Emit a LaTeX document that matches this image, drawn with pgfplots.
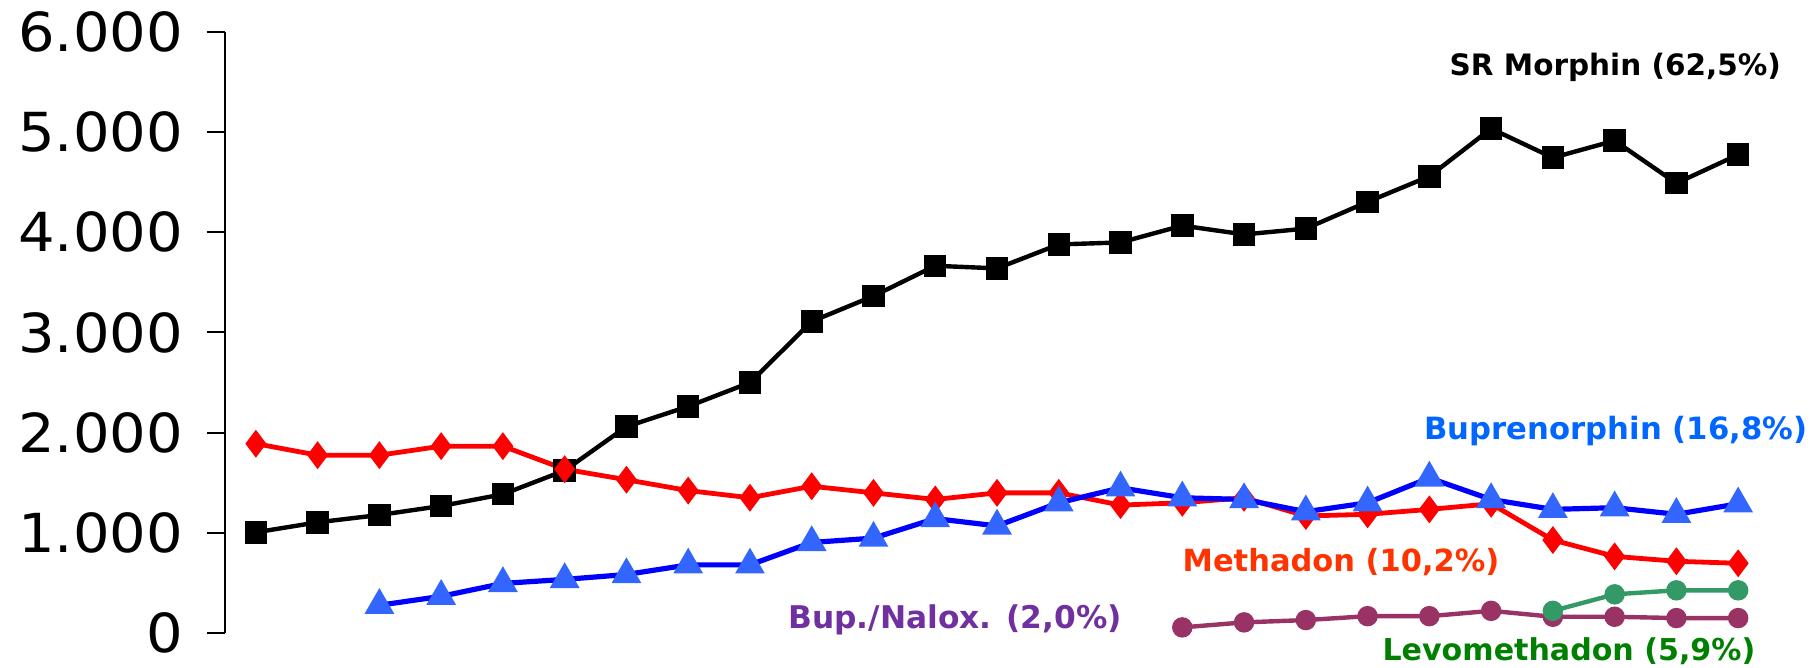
\documentclass[border=0pt]{standalone}
\usepackage{pgfplots}
\pgfplotsset{compat=1.18}
\usepackage{fontspec}
\setmainfont{DejaVu Sans}
\newfontfamily\tickfont[FakeStretch=1.07]{DejaVu Sans}
\definecolor{bluemark}{RGB}{51,102,255}
\definecolor{bluelabel}{RGB}{0,102,255}
\definecolor{methlabel}{RGB}{255,51,0}
\definecolor{nalox}{RGB}{153,51,102}
\definecolor{naloxlabel}{RGB}{112,48,160}
\definecolor{levo}{RGB}{51,153,102}
\definecolor{levolabel}{RGB}{0,128,0}
\begin{document}
\begin{tikzpicture}[x=0.5bp,y=0.5bp]
\path[use as bounding box] (-225,-35) rectangle (1593,633);
\begin{axis}[
  at={(0,0)}, anchor=south west,
  scale only axis, width=772bp, height=300.5bp,
  xmin=0.5, xmax=25.5, ymin=0, ymax=6000,
  axis x line=none, axis y line*=left,
  ytick={0,1000,2000,3000,4000,5000,6000},
  scaled y ticks=false,
  tick align=outside, major tick length=9bp,
  every tick/.style={black, line width=1bp},
  axis line style={line width=1bp},
  yticklabel style={font=\tickfont\fontsize{27}{27}\selectfont, xshift=-8.5bp},
  /pgf/number format/1000 sep={.},
  /pgf/number format/assume math mode=true,
  clip=false,
]
\addplot[black, line width=2.2bp, mark=square*, mark size=4.5bp] coordinates {
(1,1005)(2,1105)(3,1178)(4,1268)(5,1385)(6,1622)(7,2060)(8,2262)(9,2500)(10,3110)(11,3364)(12,3666)(13,3640)(14,3879)(15,3899)(16,4067)(17,3979)(18,4037)(19,4304)(20,4559)(21,5035)(22,4745)(23,4915)(24,4490)(25,4775)};
\addplot[red, line width=2.4bp, mark=diamond*, mark size=5bp, mark options={fill=red}] coordinates {
(1,1890)(2,1775)(3,1775)(4,1865)(5,1865)(6,1635)(7,1530)(8,1422)(9,1350)(10,1465)(11,1399)(12,1333)(13,1399)(14,1399)(15,1277)(16,1300)(17,1350)(18,1168)(19,1185)(20,1234)(21,1290)(22,928)(23,765)(24,716)(25,696)};
\addplot[blue, line width=2.6bp, mark=triangle*, mark size=6bp, mark options={draw=bluemark, fill=bluemark}] coordinates {
(3,277)(4,366)(5,495)(6,535)(7,584)(8,680)(9,680)(10,904)(11,947)(12,1142)(13,1069)(14,1300)(15,1449)(16,1350)(17,1333)(18,1211)(19,1300)(20,1548)(21,1333)(22,1234)(23,1251)(24,1185)(25,1290)};
\addplot[nalox, line width=2.2bp, mark=*, mark size=4bp] coordinates {
(16,56)(17,106)(18,129)(19,168)(20,168)(21,221)(22,162)(23,162)(24,149)(25,149)};
\addplot[levo, line width=2.2bp, mark=*, mark size=4bp] coordinates {
(22,221)(23,386)(24,426)(25,426)};
\node[font=\bfseries\fontsize{14.8}{14.8}\selectfont, text=black] at (axis cs:23.01,5649) {SR Morphin (62,5\%)};
\node[font=\bfseries\fontsize{15.4}{15.4}\selectfont, text=bluelabel] at (axis cs:23.02,2020) {Buprenorphin (16,8\%)};
\node[font=\bfseries\fontsize{15.3}{15.3}\selectfont, text=methlabel] at (axis cs:18.57,709) {Methadon (10,2\%)};
\node[font=\bfseries\fontsize{15.7}{15.7}\selectfont, text=naloxlabel] at (axis cs:12.32,130) {Bup./Nalox. (2,0\%)};
\node[font=\bfseries\fontsize{15.1}{15.1}\selectfont, text=levolabel] at (axis cs:22.26,-186) {Levomethadon (5,9\%)};
\end{axis}
\end{tikzpicture}
\end{document}
